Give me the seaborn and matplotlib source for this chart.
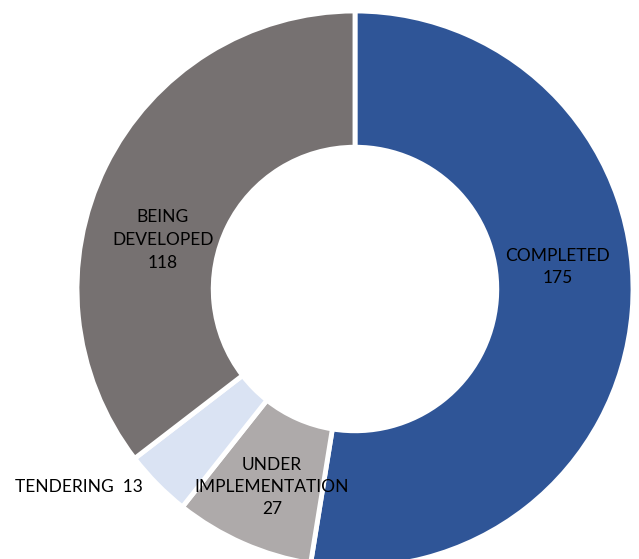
import matplotlib
matplotlib.use("Agg")
import matplotlib.pyplot as plt
import seaborn as sns

# Project status counts
categories = ["COMPLETED", "UNDER\nIMPLEMENTATION", "TENDERING", "BEING\nDEVELOPED"]
counts = [175, 27, 13, 118]
colors = sns.color_palette(["#2F5597", "#AEAAAA", "#DAE3F3", "#767171"])

sns.set_theme(style="white")
plt.rcParams["font.family"] = ["Lato", "DejaVu Sans"]

W, H = 639, 559
fig = plt.figure(figsize=(W / 100, H / 100), dpi=100)
ax = fig.add_axes([0, 0, 1, 1])

cx, cy, r = 355, 289, 278
ring = 0.49

ax.pie(counts, colors=colors, startangle=90, counterclock=False,
       center=(cx, H - cy), radius=r,
       wedgeprops=dict(width=r * ring, edgecolor="white", linewidth=3.5))
ax.set_xlim(0, W)
ax.set_ylim(0, H)
ax.set_aspect("equal")
ax.axis("off")

# label anchor positions (pixels from top-left) for each slice
label_pos = [(558, 267), (272, 487), (79, 487), (163, 240)]
for name, val, (x, y) in zip(categories, counts, label_pos):
    if name == "TENDERING":
        txt = f"{name}  {val}"
    else:
        txt = f"{name}\n{val}"
    ax.text(x, H - y, txt, ha="center", va="center", fontsize=12.5,
            color="#000000", linespacing=1.5)

fig.savefig("out.png", dpi=100)
